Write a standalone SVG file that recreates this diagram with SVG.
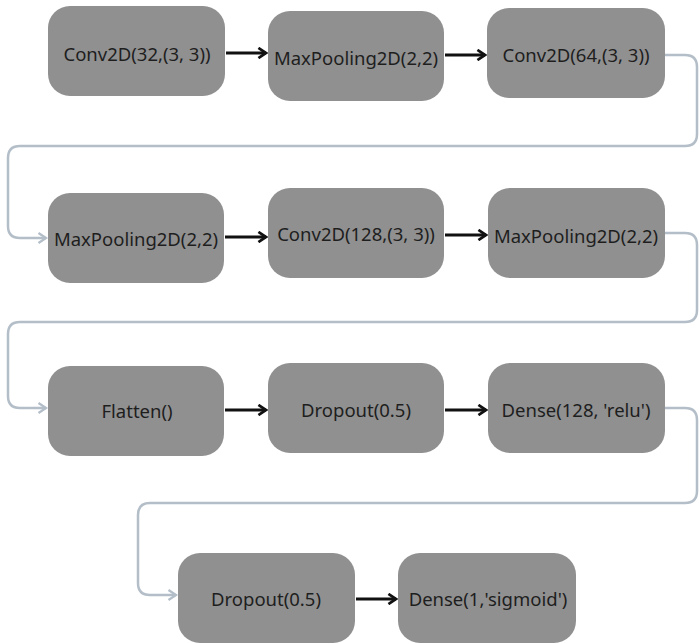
<svg xmlns="http://www.w3.org/2000/svg" width="699" height="644" viewBox="0 0 699 644">
  <defs>
    <style>
      .node rect { fill: #909090; }
      .node text { font-family: "Noto Sans", "Open Sans", sans-serif; font-size: 18.5px; fill: #1e1e1e; text-anchor: middle; dominant-baseline: central; }
      .flow { fill: none; stroke: #111; stroke-width: 3; }
      .wrap { fill: none; stroke: #b3bec8; stroke-width: 2.5; }
    </style>
    <marker id="headDark" viewBox="0 0 10 10" refX="8" refY="5" markerWidth="4.2" markerHeight="4.2" markerUnits="strokeWidth" orient="auto">
      <path d="M2,1 L8,5 L2,9" fill="none" stroke="#111" stroke-width="2.2"/>
    </marker>
    <marker id="headLight" viewBox="0 0 10 10" refX="8" refY="5" markerWidth="5" markerHeight="5" markerUnits="strokeWidth" orient="auto">
      <path d="M2,1 L8,5 L2,9" fill="none" stroke="#b3bec8" stroke-width="1.8"/>
    </marker>
  </defs>
  <rect width="699" height="644" fill="#ffffff"/>

  <g id="connectors">
    <path class="flow" d="M226,53 H266" marker-end="url(#headDark)"/>
    <path class="flow" d="M445,55 H485" marker-end="url(#headDark)"/>
    <path class="wrap" d="M665,55 H685 Q697,55 697,67 V134 Q697,146 685,146 H20 Q8,146 8,158 V226 Q8,238 20,238 H46" marker-end="url(#headLight)"/>
    <path class="flow" d="M225,237 H266" marker-end="url(#headDark)"/>
    <path class="flow" d="M445,235 H486" marker-end="url(#headDark)"/>
    <path class="wrap" d="M665,233 H685 Q697,233 697,245 V310 Q697,322 685,322 H20 Q8,322 8,334 V396 Q8,408 20,408 H46" marker-end="url(#headLight)"/>
    <path class="flow" d="M225,410 H266" marker-end="url(#headDark)"/>
    <path class="flow" d="M445,410 H486" marker-end="url(#headDark)"/>
    <path class="wrap" d="M665,408 H685 Q697,408 697,420 V491 Q697,503 685,503 H150 Q138,503 138,515 V583 Q138,595 150,595 H176" marker-end="url(#headLight)"/>
    <path class="flow" d="M356,599 H396" marker-end="url(#headDark)"/>
  </g>

  <g id="conv2d-32" class="node"><rect x="48" y="6" width="177" height="90" rx="22"/><text x="137" y="53">Conv2D(32,(3, 3))</text></g>
  <g id="maxpool-1" class="node"><rect x="268" y="11" width="176" height="90" rx="22"/><text x="356" y="57">MaxPooling2D(2,2)</text></g>
  <g id="conv2d-64" class="node"><rect x="487" y="8" width="178" height="90" rx="22"/><text x="576" y="54">Conv2D(64,(3, 3))</text></g>

  <g id="maxpool-2" class="node"><rect x="48" y="193" width="176" height="90" rx="22"/><text x="136" y="238">MaxPooling2D(2,2)</text></g>
  <g id="conv2d-128" class="node"><rect x="268" y="188" width="176" height="90" rx="22"/><text x="356" y="233">Conv2D(128,(3, 3))</text></g>
  <g id="maxpool-3" class="node"><rect x="488" y="188" width="177" height="90" rx="22"/><text x="576" y="235">MaxPooling2D(2,2)</text></g>

  <g id="flatten" class="node"><rect x="48" y="366" width="176" height="90" rx="22"/><text x="137" y="410">Flatten()</text></g>
  <g id="dropout-1" class="node"><rect x="268" y="363" width="176" height="90" rx="22"/><text x="356" y="409">Dropout(0.5)</text></g>
  <g id="dense-128" class="node"><rect x="488" y="363" width="177" height="90" rx="22"/><text x="576" y="409">Dense(128, 'relu')</text></g>

  <g id="dropout-2" class="node"><rect x="178" y="553" width="177" height="90" rx="22"/><text x="266" y="598">Dropout(0.5)</text></g>
  <g id="dense-1" class="node"><rect x="398" y="553" width="178" height="90" rx="22"/><text x="488" y="598">Dense(1,'sigmoid')</text></g>
</svg>
